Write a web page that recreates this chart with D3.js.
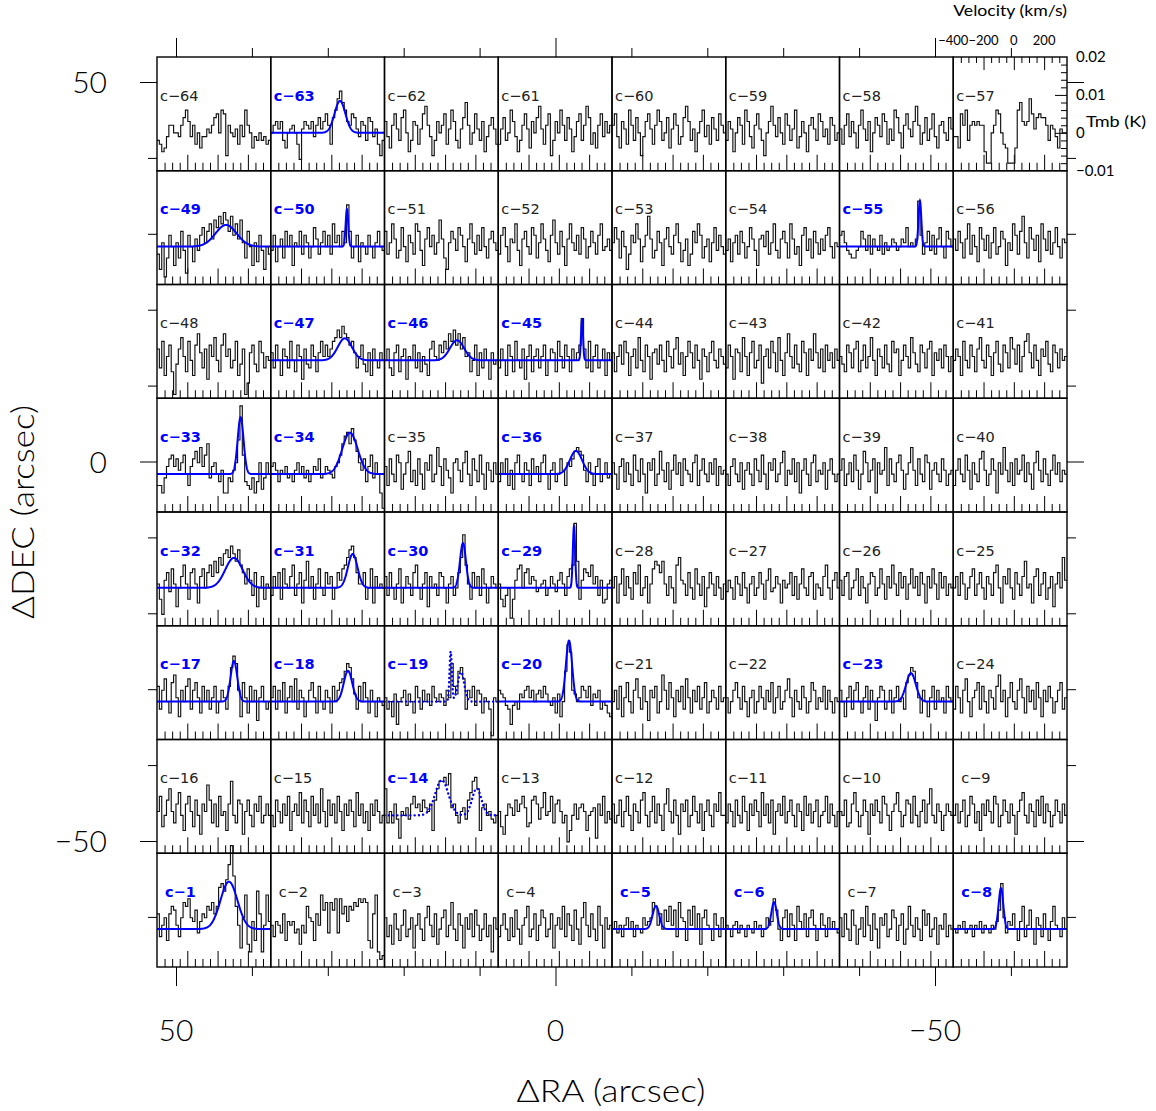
<!DOCTYPE html>
<html>
<head>
<meta charset="utf-8">
<script src="https://cdn.jsdelivr.net/npm/d3@7"></script>
<style>
  body { margin: 0; background: #fff; }
  svg { display: block; }
</style>
</head>
<body>
<svg id="chart" width="1156" height="1111"></svg>
<script>
// ---------------------------------------------------------------
// Spectral map: 8 x 8 grid of spectra (Tmb in mK per channel)
// ---------------------------------------------------------------

// Panel numbers, row by row from the top, left to right
const panelIds = [
  [64, 63, 62, 61, 60, 59, 58, 57],
  [49, 50, 51, 52, 53, 54, 55, 56],
  [48, 47, 46, 45, 44, 43, 42, 41],
  [33, 34, 35, 36, 37, 38, 39, 40],
  [32, 31, 30, 29, 28, 27, 26, 25],
  [17, 18, 19, 20, 21, 22, 23, 24],
  [16, 15, 14, 13, 12, 11, 10, 9],
  [1, 2, 3, 4, 5, 6, 7, 8]
];

// Channel values in mK, 48 channels from -400 to +351 km/s
const row1Spectra = [
  [-2,-3,-5,-4,-1,2,2,0, 0,-1,2,4,6,3,-1,2, -3,0,-4,-1,-1,1,0,2, 4,5,0,6,5,-6,2,0, -1,1,-3,2,-1,6,2,0, -4,-1,-2,0,-2,-1,-3,-2],
  [0,2,3,1,3,-2,-4,0, 1,2,0,-3,-7,1,3,2, 1,3,-1,2,4,1,3,5, 2,-3,4,6,9,11,8,6, 3,2,5,4,1,-1,3,2, -2,4,3,-1,1,-3,-6,-2],
  [3,-1,-4,2,5,1,-2,4, 6,0,-5,-2,3,2,-3,1, 5,7,2,-1,-6,-2,3,0, 2,5,-3,1,6,3,-2,-4, 1,4,8,2,-3,0,5,1, -2,3,-5,-1,2,4,1,-3],
  [-3,1,4,-2,0,6,3,-1, -5,-2,2,5,1,-4,3,0, 4,7,1,-3,2,5,-6,-2, 3,0,6,2,-2,4,1,-5, -1,3,5,-2,2,7,4,-3, 0,-4,2,5,-1,3,0,2],
  [2,5,-1,-4,3,1,-3,6, 2,-2,4,0,-6,-1,3,5, 1,-3,2,6,3,-2,0,4, -4,1,5,2,-3,-1,4,7, 3,-2,1,-5,0,3,6,-1, 2,-3,4,1,-2,5,2,0],
  [-2,3,1,-5,0,4,2,-3, 6,3,-1,-4,2,5,1,-2, -6,0,3,7,2,-1,4,0, -3,5,2,-2,1,6,-4,-1, 3,0,-5,2,4,1,-2,5, 3,-1,1,-3,4,2,-2,0],
  [1,-3,2,5,-1,3,0,-4, 2,6,1,-2,3,-5,0,4, 2,-1,5,3,-3,1,-2,6, 4,0,-4,2,5,1,-1,3, 7,2,-3,0,4,-2,1,5, -1,-4,2,3,0,-2,4,1],
  [-1,-1,-4,5,2,6,-2,2, 3,2,3,2,2,-5,-8,-8, 0,2,6,5,0,-3,-4,-8, -8,-8,-4,6,8,3,2,3, 9,5,1,4,5,4,4,2, -2,2,1,-1,-4,1,0,0]
];
const row2Spectra = [
  [-2,-6,1,-8,-3,3,0,-5, 1,-3,4,-1,-7,3,0,-4, 2,-1,3,5,1,4,6,2, 7,5,8,6,9,7,4,8, 3,6,2,7,1,-3,4,0, -5,1,-4,3,-1,-6,0,-2],
  [-1,3,-4,0,2,-3,4,0, 3,-5,1,0,4,-2,3,1, -3,0,5,2,-2,1,4,0, 3,-2,6,1,3,0,4,1, 11,4,-3,0,3,-4,1,0, -2,3,0,-3,1,4,0,-1],
  [4,-2,1,6,2,-3,-1,5, 0,-4,3,1,-2,6,4,-1, -5,2,5,0,3,-2,1,7, 2,-3,-6,1,4,2,-1,5, 3,0,-4,2,6,1,-2,3, -1,5,0,-3,2,4,1,-1],
  [-2,3,5,0,-4,2,1,6, -1,-5,2,4,0,-2,5,3, -3,1,6,2,-1,-4,3,7, 1,-2,4,0,-5,2,6,1, -1,3,-2,5,2,-3,0,4, 1,-2,3,6,-1,0,2,-1],
  [1,5,2,-3,4,0,-6,-2, 3,1,6,2,-4,0,3,8, 2,-3,-1,4,1,-5,2,5, 0,-2,3,6,1,-4,-1,2, -5,-2,4,1,6,3,-3,0, 2,-4,1,5,-1,3,0,-2],
  [-1,2,-4,1,3,-2,4,1, -3,0,5,2,-1,-5,2,3, 0,4,-2,1,6,-1,-3,2, 4,1,-3,6,2,-2,0,-5, 3,5,-1,2,-3,4,1,-2, 2,-1,3,5,0,-3,1,0],
  [3,4,1,-1,-2,-3,-3,-1, 0,4,2,-1,3,-2,2,0, -1,3,-2,1,-1,0,2,1, -1,0,2,1,5,0,1,0, 2,12,3,-2,1,4,-1,3, -2,2,5,0,-3,4,2,0],
  [2,-1,4,1,-3,2,6,-2, 3,0,-4,5,2,-1,3,-3, 1,5,-2,0,4,2,-5,1, -1,6,3,-2,4,8,1,-3, 5,2,-1,3,-4,6,2,-1, 4,-2,1,5,0,-3,2,1]
];
const row3Spectra = [
  [3,-2,5,-4,1,4,-3,-9, -1,3,6,1,-3,5,0,-4, 4,7,2,-2,3,-5,4,1, 6,0,-3,4,7,1,3,-2, 0,5,-4,-1,3,-9,-6,2, 4,-1,-3,5,2,-2,1,0],
  [2,-2,4,0,-4,3,1,-2, 5,0,-3,4,1,-5,3,-1, -2,4,1,-3,2,5,1,4, 1,3,5,6,8,6,9,7, 6,4,5,2,-2,1,4,-1, -3,2,-4,3,0,-2,2,0],
  [0,3,-2,-4,2,4,-3,1, 3,-5,1,0,4,-2,2,-3, 1,-1,-4,3,5,1,0,4, 2,5,3,7,5,8,4,7, 3,6,1,2,-3,0,4,-4, 2,-2,3,0,-5,2,-1,0],
  [-2,3,0,-4,4,1,-3,5, 0,-2,3,-5,1,4,-3,1, 3,-2,1,4,-4,0,3,2, -3,5,1,-2,4,1,-3,3, 0,2,4,11,3,-2,5,-3, 1,4,-2,0,3,-4,2,0],
  [2,-3,1,4,-1,5,2,-4, 1,3,-2,6,0,-3,4,1, -5,2,3,-1,4,0,-3,5, 1,-2,3,6,-1,2,-4,1, 5,2,-2,4,0,-5,3,1, -3,2,5,0,-2,3,1,-1],
  [-2,4,1,-5,3,2,-3,6, 1,-4,2,5,-2,0,4,-6, 1,3,-2,5,2,-3,6,0, -4,2,7,1,-2,4,-1,-3, 5,2,-4,3,0,7,2,-2, 3,-3,4,0,2,-2,3,0],
  [1,-1,-3,4,2,-2,3,5, -3,0,4,-2,1,6,0,-4, 3,1,-2,4,-1,-3,5,2, 3,-4,0,4,1,-2,6,2, -1,-3,4,2,-2,3,5,-4, 2,0,3,-2,4,1,-3,1],
  [0,3,1,-4,5,0,-2,4, 1,-3,3,6,0,-2,4,1, -4,2,5,-1,-3,4,2,-2, 6,3,-1,4,-3,1,5,7, 2,-2,4,0,-4,3,1,5, -1,-3,4,2,-2,3,0,1]
];
const row4Spectra = [
  [-3,-3,-5,-1,2,4,5,2, 4,1,3,5,0,-3,2,4, 6,3,7,2,5,8,-1,2, 3,0,-2,1,-5,-5,-1,-2, 1,3,9,18,5,-2,-3,-4, -1,-5,-2,3,-4,-1,3,0],
  [2,3,1,-2,1,0,2,-1, 0,-2,1,3,0,2,-1,1, -2,0,2,1,4,-1,0,2, 1,0,-1,2,3,5,8,10, 11,8,12,9,6,3,1,4, -2,2,5,-1,3,0,-5,-9],
  [2,-3,4,0,-2,5,3,-4, 0,3,6,-2,1,-3,4,0, -4,3,1,5,-2,0,7,2, -3,4,1,-1,-5,3,4,1, -2,3,6,0,-3,4,1,-2, 5,0,-4,3,1,-2,3,0],
  [-2,3,0,4,-3,1,-4,3, 5,0,-2,3,1,-3,4,0, 2,-2,3,5,0,-4,1,3, -2,0,4,1,-3,3,2,4, 6,7,6,5,1,-2,3,0, -3,2,4,-2,0,3,-1,0],
  [3,0,-4,2,4,-2,3,0, -3,5,1,-2,4,0,-5,3, 1,4,-3,0,6,1,-2,3, -4,1,5,0,3,-3,4,1, 0,-2,3,5,-3,1,4,0, -2,3,0,4,-3,2,0,1],
  [0,-3,2,4,0,-2,3,-4, 1,3,0,-3,4,1,-2,5, 0,-4,3,1,4,-2,0,3, 6,-3,1,0,4,-2,3,-5, 1,4,0,-3,3,5,-2,1, 0,3,-4,1,4,0,-2,0],
  [1,4,-3,0,3,-2,5,1, -4,0,6,3,-2,1,4,-5, 3,0,1,7,-3,4,0,-2, 3,5,1,-4,0,3,7,1, -3,4,0,-2,5,3,-4,1, 3,0,-2,4,1,-3,0,1],
  [-3,1,4,0,-2,5,1,-4, 3,0,-2,4,6,1,-3,0, 4,1,-5,3,0,7,1,-2, 3,-3,4,0,1,5,-2,3, 0,-4,3,6,1,-2,4,0, -3,1,5,0,3,-2,1,0]
];
const row5Spectra = [
  [1,-3,-7,2,4,-1,5,1, -5,0,3,6,1,-3,4,5, 1,-4,3,5,0,4,6,3, 7,4,8,6,9,10,8,11, 9,7,10,6,4,1,5,2, -2,4,-5,0,3,-3,1,0],
  [-2,3,0,4,-3,5,1,0, 3,6,-2,1,4,-4,2,7, 0,3,-3,1,5,0,-2,4, 1,3,-3,0,4,2,5,6, 8,10,11,8,4,1,1,4, -3,0,5,-4,3,0,1,0],
  [3,-2,4,0,-3,1,5,-4, 0,3,1,-2,4,6,0,-3, 1,4,-5,3,0,1,-2,4, 3,0,-4,1,3,-2,0,4, 8,14,6,1,-3,4,0,3, -2,5,1,-4,0,3,1,0],
  [1,-3,-5,-2,0,-8,-3,2, 5,6,0,4,5,1,3,2, -1,0,1,2,-2,0,3,1, -1,2,4,1,-2,3,5,6, 17,7,-3,2,5,4,3,6, 1,3,-2,2,-4,-3,1,2],
  [0,3,-4,1,5,-2,3,0, -3,4,1,6,-2,0,3,-4, 1,5,7,6,4,7,1,-2, 3,0,-4,6,8,2,1,-2, 4,0,-3,5,1,-2,3,-5, 0,4,1,-2,3,0,-3,1],
  [-1,2,0,-3,3,1,-2,4, 0,-4,1,3,-2,0,4,1, -3,2,5,-1,0,3,1,-4, 2,0,1,4,-2,3,-3,1, 5,0,-2,3,4,-3,1,0, -2,3,6,0,-3,2,4,0],
  [2,-2,3,4,-3,0,2,5, -2,3,0,-4,1,4,3,-2, 0,5,1,-3,3,0,6,1, -2,4,0,3,-3,1,5,0, 3,-2,4,1,-4,3,0,5, 1,-3,4,0,3,-2,1,0],
  [0,3,-2,4,1,-3,0,3, 5,-2,1,4,0,-3,3,1, -2,4,6,0,-4,3,1,5, 0,-3,4,1,-2,3,7,0, 1,-4,3,5,-2,1,4,-3, 0,3,-5,1,4,0,8,2]
];
const row6Spectra = [
  [4,-2,3,6,0,-3,5,7, 1,-4,3,0,4,6,-2,3, 5,1,-3,4,0,3,-2,1, 4,-3,0,3,1,-2,4,9, 12,10,3,-4,5,1,-3,4, 0,3,-5,1,4,0,-2,0],
  [1,4,-2,3,0,5,-3,1, 4,0,6,-2,3,1,-4,0, 3,5,1,-3,4,0,-2,3, 1,-3,4,0,3,5,6,8, 10,9,6,2,-2,4,0,5, 1,-3,3,0,-4,1,0,-1],
  [1,-2,0,-4,2,-6,0,1, 3,-1,2,0,-3,4,1,-2, 3,0,2,-1,4,1,0,2, 1,-1,3,1,10,4,2,8, 9,6,-2,3,1,4,-1,3, 2,-3,1,0,-2,-9,1,0],
  [3,2,1,-1,-2,-6,-1,0, -2,2,1,3,4,1,3,0, 2,3,1,4,2,0,-1,1, -3,2,-4,0,8,15,13,3, 2,0,1,4,3,1,4,-1, 2,1,3,-2,0,-1,-3,-4],
  [0,3,-2,4,-4,1,5,0, -3,3,6,1,-2,4,0,-5, 3,1,4,-3,0,7,3,-2, 5,1,-4,3,0,4,-2,6, 1,-3,3,0,4,-2,1,5, -3,0,3,1,-2,4,0,1],
  [1,-3,0,3,5,1,-2,4, 0,-4,1,3,-3,0,4,1, -2,3,0,5,-3,1,4,-2, 0,3,6,1,-4,3,0,-2, 4,1,-3,0,5,3,-2,1, 0,4,-2,3,0,-3,1,0],
  [3,0,-4,1,4,-2,3,5, 0,-3,1,4,-2,3,0,-5, 1,4,3,-2,0,3,-3,1, 4,0,1,-2,5,7,9,8, 5,1,-3,3,0,-4,1,4, -2,3,0,1,-3,4,1,0],
  [-2,4,1,-3,3,6,0,-4, 1,3,5,-2,4,0,-3,3, 1,-2,4,7,0,3,-4,1, 5,0,-2,3,6,1,-3,4, 0,3,-2,5,1,-4,3,0, 4,1,-3,0,3,5,-2,1]
];
const row7Spectra = [
  [1,5,-3,0,4,7,1,-2, 3,6,0,-4,3,5,1,-3, 4,0,-5,3,1,8,4,-2, 3,-3,5,0,1,-4,3,9, 0,-2,4,3,-5,1,4,0, -3,3,1,5,-2,0,3,0],
  [0,-3,4,1,-2,3,0,5, -4,1,3,0,6,-2,4,1, -3,5,0,3,-2,7,1,-3, 4,0,3,-2,5,1,-4,3, 0,4,1,-3,6,0,3,-2, 1,-4,3,0,4,1,-2,0],
  [7,-2,1,-2,3,-1,-6,1, 0,2,-1,3,5,2,3,1, 4,2,1,3,-4,4,7,9, 9,10,8,11,2,3,0,-2, 1,2,-1,4,6,9,10,7, -4,2,3,0,1,-1,-2,0],
  [1,-3,-5,0,3,2,0,4, 1,3,5,2,-3,-2,4,5, 3,-1,2,6,0,1,5,-2, 3,4,1,-2,0,-7,-4,0, 3,-1,2,3,1,-4,0,1, 2,-6,3,0,5,-2,1,-1],
  [3,-2,0,4,-3,1,5,0, -4,3,1,-2,4,6,0,-3, 1,5,-2,3,0,-4,3,7, 1,-2,4,0,-5,3,1,4, -3,0,5,1,-2,3,-4,1, 4,0,-3,3,1,6,0,0],
  [-2,3,1,-3,4,0,-2,5, 1,-4,3,0,4,1,-3,6, 0,3,-2,4,-5,1,3,0, 5,-2,1,4,0,-3,3,1, -4,5,0,3,-2,1,4,-3, 0,1,5,-2,3,0,-3,1],
  [1,0,4,-3,-2,3,6,1, -3,0,4,1,-5,3,0,4, 1,-2,5,3,0,-4,1,3, 6,1,-3,0,4,3,-2,5, 0,-3,1,4,-2,3,7,0, -2,3,1,-4,0,3,1,0],
  [0,3,-2,1,4,-3,0,5, 3,-2,1,-4,3,0,4,1, -2,5,3,-3,0,4,1,-2, 3,0,-5,1,4,6,0,-2, 3,1,-3,4,0,5,-2,3, 1,-3,0,4,1,-2,3,0]
];
const row8Spectra = [
  [4,-2,1,3,-3,4,6,5, 1,-2,3,7,6,8,3,2, 5,-1,2,4,3,6,5,7, 4,6,11,12,10,13,17,22, 14,6,1,-5,3,9,-4,-6, 2,-3,10,4,-6,1,9,2],
  [1,-2,2,1,-1,4,-3,2, 1,2,-1,0,-4,1,-1,6, 3,2,-3,4,1,9,5,7, -1,7,5,8,-1,8,4,6, 2,6,5,7,6,8,7,8, 7,-3,-5,4,9,-6,-8,-7],
  [3,-2,1,-4,4,0,-3,1, 5,-2,0,3,-5,1,4,0, -3,3,6,1,-2,4,-4,0, 3,5,-2,1,7,0,-3,4, 1,-5,3,0,4,-2,5,1, -3,0,4,-2,1,-6,3,0],
  [-2,1,4,0,-3,3,-2,5, 0,-4,1,3,6,-2,0,4, -3,1,5,3,-2,0,4,-5, 1,3,0,6,-2,4,1,-3, 5,0,-4,3,7,1,-2,4, 0,-3,6,1,-5,3,0,1],
  [0,2,-1,1,-2,1,3,0, 2,-2,1,0,-1,3,1,2, 3,7,6,1,4,0,5,2, 6,1,5,-2,7,3,2,-3, 5,1,6,0,4,-4,3,5, 1,0,-3,4,1,-2,3,0],
  [1,0,-2,1,2,-1,1,0, -2,1,0,-1,2,0,1,-2, 0,3,1,2,8,5,0,-3, 3,5,-2,4,1,-3,6,2, 0,4,-2,3,5,1,-3,0, 4,1,-2,3,0,2,0,-1],
  [3,-2,4,0,-3,5,1,-4, 0,3,-2,6,1,-3,4,0, -5,3,1,4,-2,0,5,3, -3,1,4,-4,0,6,1,-2, 3,0,-3,5,1,4,-2,0, 3,-4,1,0,4,-2,1,0],
  [0,-1,1,0,2,-1,0,1, -2,1,0,2,-1,1,0,-1, 1,0,2,5,12,3,-1,2, 1,4,0,-3,2,6,-2,1, 5,0,-4,3,1,-2,4,0, -3,2,6,1,0,-2,3,0]
];
const allRows = [row1Spectra, row2Spectra, row3Spectra, row4Spectra,
                 row5Spectra, row6Spectra, row7Spectra, row8Spectra];

// Gaussian fit components (one entry per component)
const fitPanel  = [63, 49, 50, 55, 47, 46, 45, 33, 34, 36, 32, 31, 30, 29, 17, 18, 19, 19, 20, 23, 14, 14, 1, 5, 6, 8];
const fitCenter = [57, 56, 103, 131, 89, 79, 153, 152, 123, 113, 108, 141, 118, 100, 108, 110, 37, 105, 67, 72, -22, 209, 75, -110, -81, -85];
const fitPeak   = [8.4, 5.7, 9.9, 12.1, 5.8, 5.3, 10.6, 15.0, 10.9, 6.1, 7.9, 8.9, 11.8, 16.3, 10.7, 8.1, 13.2, 7.8, 16.1, 7.5, 9.3, 7.1, 12.5, 6.1, 7.1, 10.8];
const fitFwhm   = [84, 165, 20, 22, 110, 110, 16, 46, 120, 95, 135, 75, 46, 18, 52, 66, 18, 50, 48, 75, 103, 72, 132, 52, 42, 36];
const dottedFitPanels = [19, 14];

// Axis values
const velMin = -400, velMax = 351, nChan = 48;
const tmbMin = -10, tmbMax = 20;              // mK
const velMinorTicks = d3.range(-350, 301, 50);
const velMajorTicks = [-200, 0, 200];
const velLabelTicks = [-400, -200, 0, 200];
const tmbLabelTicks = [20, 10, 0, -10];
const offsetMinorTicks = d3.range(-60, 51, 10);
const offsetMajorTicks = [50, 0, -50];

// ---------------------------------------------------------------
const svg = d3.select("#chart");
const gx0 = 157, gy0 = 57, gx1 = 1067, gy1 = 967;
const nCols = 8, nRows = 8;
const pw = (gx1 - gx0) / nCols, ph = (gy1 - gy0) / nRows;
const fitBlue = "#0000ff";
const numFont = "Lato, 'DejaVu Sans', sans-serif";

const vScale = d3.scaleLinear().domain([velMin, velMax]).range([0, pw]);
const tScale = d3.scaleLinear().domain([tmbMin, tmbMax]).range([ph, 0]);
const raScale = d3.scaleLinear().domain([50, -50]).range([176, 935]);
const decScale = d3.scaleLinear().domain([50, -50]).range([82, 841]);

const edges = d3.range(nChan + 1).map(i => velMin + i * (velMax - velMin) / nChan);
const histLine = d3.line().x(d => vScale(d[0])).y(d => tScale(d[1])).curve(d3.curveStepAfter);
const fitLine = d3.line().x(d => vScale(d[0])).y(d => tScale(d[1]));
const fitVel = d3.range(velMin, velMax + 0.1, 1.5);
const LN16 = 4 * Math.LN2;

function stripDomain(g) { g.select(".domain").remove(); }

allRows.forEach((rowSpectra, r) => {
  rowSpectra.forEach((vals, c) => {
    const id = panelIds[r][c];
    const g = svg.append("g")
      .attr("transform", `translate(${gx0 + c * pw},${gy0 + r * ph})`);

    // velocity ticks along the bottom of each box
    g.append("g").attr("transform", `translate(0,${ph})`)
      .call(d3.axisTop(vScale).tickValues(velMinorTicks.filter(v => !velMajorTicks.includes(v)))
        .tickSize(8).tickFormat(""))
      .call(stripDomain);
    g.append("g").attr("transform", `translate(0,${ph})`)
      .call(d3.axisTop(vScale).tickValues(velMajorTicks).tickSize(16).tickFormat(""))
      .call(stripDomain);

    // spectrum histogram
    const pts = vals.map((v, i) => [edges[i], v]);
    pts.push([edges[nChan], vals[nChan - 1]]);
    g.append("path").attr("d", histLine(pts))
      .attr("fill", "none").attr("stroke", "#111").attr("stroke-width", 1.15);

    // gaussian fit
    const comps = fitPanel.map((p, k) => k).filter(k => fitPanel[k] === id);
    if (comps.length) {
      const curve = fitVel.map(v => [v, d3.sum(comps, k =>
        fitPeak[k] * Math.exp(-LN16 * (v - fitCenter[k]) ** 2 / fitFwhm[k] ** 2))]);
      const dotted = dottedFitPanels.includes(id);
      g.append("path").attr("d", fitLine(curve))
        .attr("fill", "none").attr("stroke", fitBlue)
        .attr("stroke-width", dotted ? 2.4 : 2)
        .attr("stroke-linecap", dotted ? "round" : "butt")
        .attr("stroke-dasharray", dotted ? "0.1 4.2" : null);
    }

    // panel name
    g.append("text")
      .attr("x", id < 10 ? 8 : 3).attr("y", 43.5)
      .attr("font-family", "'DejaVu Sans', sans-serif")
      .attr("font-size", 14.5)
      .attr("font-weight", comps.length ? "bold" : "normal")
      .attr("fill", comps.length ? fitBlue : "#222")
      .text(`c\u2212${id}`);

    // frame
    g.append("rect").attr("width", pw).attr("height", ph)
      .attr("fill", "none").attr("stroke", "#000").attr("stroke-width", 1.4);
  });
});

// ---- velocity / Tmb scales on the top-right box ----
const trX = gx0 + (nCols - 1) * pw;
const vAbs = d3.scaleLinear().domain([velMin, velMax]).range([trX, trX + pw]);
const tAbs = d3.scaleLinear().domain([tmbMin, tmbMax]).range([gy0 + ph, gy0]);

svg.append("g").attr("transform", `translate(0,${gy0})`)
  .call(d3.axisBottom(vAbs).tickValues(velMinorTicks.filter(v => !velMajorTicks.includes(v))).tickSize(6).tickFormat(""))
  .call(stripDomain);
svg.append("g").attr("transform", `translate(0,${gy0})`)
  .call(d3.axisBottom(vAbs).tickValues(velMajorTicks).tickSize(13).tickFormat(""))
  .call(stripDomain);
svg.append("g").attr("transform", `translate(${gx1},0)`)
  .call(d3.axisLeft(tAbs).tickValues(d3.range(-8, 20, 2).filter(v => v % 10 !== 0)).tickSize(6).tickFormat(""))
  .call(stripDomain);
svg.append("g").attr("transform", `translate(${gx1},0)`)
  .call(d3.axisLeft(tAbs).tickValues([10, 0]).tickSize(12).tickFormat(""))
  .call(stripDomain);

svg.append("g").selectAll("text").data(velLabelTicks).join("text")
  .attr("x", d => vAbs(d)).attr("y", 45)
  .attr("text-anchor", "middle")
  .attr("font-family", numFont).attr("font-size", 13)
  .text(d => d < 0 ? `\u2212${-d}` : `${d}`);
svg.append("text").attr("x", trX).attr("y", 16)
  .attr("font-family", numFont).attr("font-size", 15)
  .attr("textLength", pw).attr("lengthAdjust", "spacingAndGlyphs")
  .text("Velocity (km/s)");

svg.append("g").selectAll("text").data(tmbLabelTicks).join("text")
  .attr("x", 1076).attr("y", d => tAbs(d) + 5)
  .attr("font-family", numFont).attr("font-size", 15)
  .text(d => d === 0 ? "0" : d3.format(".2f")(d / 1000));
svg.append("text").attr("x", 1086).attr("y", tAbs(0) - 6)
  .attr("font-family", numFont).attr("font-size", 15)
  .attr("textLength", 60).attr("lengthAdjust", "spacingAndGlyphs")
  .text("Tmb (K)");

// ---- offset axes around the grid ----
const minorRA = offsetMinorTicks.filter(v => !offsetMajorTicks.includes(v));
[[gy0, d3.axisTop], [gy1, d3.axisBottom]].forEach(([y, axis]) => {
  svg.append("g").attr("transform", `translate(0,${y})`)
    .call(axis(raScale).tickValues(minorRA).tickSize(9).tickFormat("")).call(stripDomain);
  svg.append("g").attr("transform", `translate(0,${y})`)
    .call(axis(raScale).tickValues(offsetMajorTicks).tickSize(19).tickFormat("")).call(stripDomain);
});
[[gx0, d3.axisLeft], [gx1, d3.axisRight]].forEach(([x, axis]) => {
  svg.append("g").attr("transform", `translate(${x},0)`)
    .call(axis(decScale).tickValues(minorRA).tickSize(9).tickFormat("")).call(stripDomain);
  svg.append("g").attr("transform", `translate(${x},0)`)
    .call(axis(decScale).tickValues(offsetMajorTicks).tickSize(17).tickFormat("")).call(stripDomain);
});
svg.selectAll(".tick line").attr("stroke", "#000").attr("stroke-width", 1);

const fmtOff = d => d < 0 ? `\u2212${-d}` : `${d}`;
svg.append("g").selectAll("text").data(offsetMajorTicks).join("text")
  .attr("x", d => raScale(d)).attr("y", 1041)
  .attr("text-anchor", "middle")
  .attr("font-family", numFont).attr("font-weight", 300).attr("font-size", 30)
  .text(fmtOff);
svg.append("g").selectAll("text").data(offsetMajorTicks).join("text")
  .attr("x", 107).attr("y", d => decScale(d) + 11)
  .attr("text-anchor", "end")
  .attr("font-family", numFont).attr("font-weight", 300).attr("font-size", 30)
  .text(fmtOff);

svg.append("text").attr("x", 611).attr("y", 1102)
  .attr("text-anchor", "middle")
  .attr("font-family", numFont).attr("font-weight", 300).attr("font-size", 31)
  .attr("textLength", 189).attr("lengthAdjust", "spacingAndGlyphs")
  .text("\u0394RA (arcsec)");
svg.append("text")
  .attr("transform", "translate(34,512) rotate(-90)")
  .attr("text-anchor", "middle")
  .attr("font-family", numFont).attr("font-weight", 300).attr("font-size", 31)
  .attr("textLength", 214).attr("lengthAdjust", "spacingAndGlyphs")
  .text("\u0394DEC (arcsec)");
</script>
</body>
</html>
